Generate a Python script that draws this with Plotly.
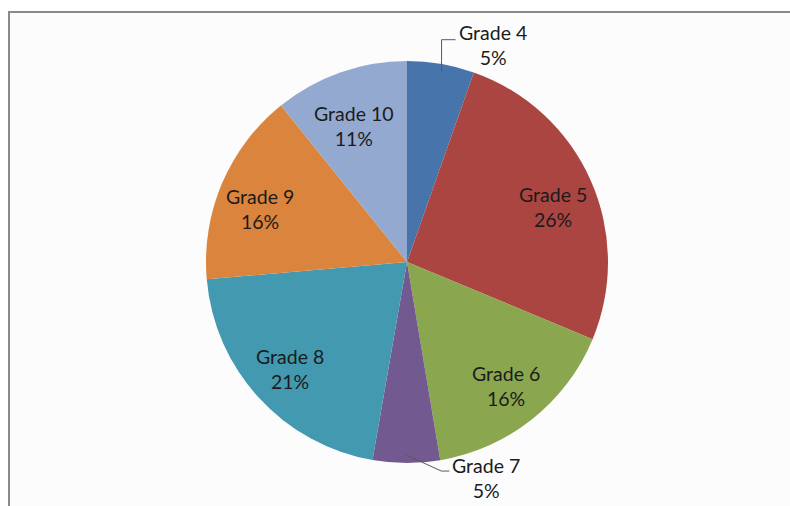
import math
import plotly.graph_objects as go

# ---- data ----
labels = ["Grade 4", "Grade 5", "Grade 6", "Grade 7", "Grade 8", "Grade 9", "Grade 10"]
values = [5.4, 25.9, 16.1, 5.4, 20.9, 15.6, 10.8]
colors = ["#4674AB", "#AB4542", "#8AA64F", "#72598F", "#4299B0", "#DB843D", "#93A9CF"]

# ---- layout geometry (pixels) ----
W, H = 790, 506
CX, CY = 407, 262
RX, RY = 207, 195          # label geometry (reference is slightly stretched)
R = 201                    # drawn pie radius (compromise)
FONT = "Lato, 'Noto Sans', sans-serif"
FSIZE = 19.5
TXT = "#1b1b1b"
INSIDE_DY = 6

dom_x = [(CX - R) / W, (CX + R) / W]
dom_y = [(H - CY - R) / H, (H - CY + R) / H]

def px(x):
    return x / W

def py(y):
    return 1 - y / H

fig = go.Figure(go.Pie(
    labels=labels, values=values, sort=False, direction="clockwise", rotation=0,
    marker=dict(colors=colors, line=dict(width=0)),
    textinfo="none", hoverinfo="label+percent", domain=dict(x=dom_x, y=dom_y),
    showlegend=False,
))

total = sum(values)
outside = {"Grade 4", "Grade 7"}
annotations = []
shapes = [dict(type="rect", xref="paper", yref="paper", x0=px(9), x1=1.05, y0=-0.05, y1=py(12),
               line=dict(color="#8a8a8a", width=2), fillcolor="#fcfcfc", layer="below")]

cum = 0.0
for lab, v in zip(labels, values):
    mid = (cum + v / 2) / total * 2 * math.pi
    cum += v
    pct = round(v / total * 100)
    text = f"{lab}<br>{pct}%"
    sx, sy = math.sin(mid), -math.cos(mid)
    if lab not in outside:
        x, y = CX + 0.77 * RX * sx, CY + 0.77 * RY * sy + INSIDE_DY
        annotations.append(dict(x=px(x), y=py(y), xref="paper", yref="paper", text=text,
                                showarrow=False, xanchor="center", yanchor="middle",
                                font=dict(family=FONT, size=FSIZE, color=TXT), align="center"))
    else:
        p0 = (CX + 0.99 * RX * sx, CY + 0.99 * RY * sy)
        if sy < 0:  # top label: vertical then horizontal
            p1 = (p0[0], CY - 1.14 * RY)
            p2 = (p1[0] + 14, p1[1])
            ty = p1[1] + 5
        else:       # bottom label: diagonal then horizontal
            p1 = (p0[0] + 35, p0[1] + 16)
            p2 = (p1[0] + 8, p1[1])
            ty = p1[1] + 7
        path = f"M {px(p0[0])},{py(p0[1])} L {px(p1[0])},{py(p1[1])} L {px(p2[0])},{py(p2[1])}"
        shapes.append(dict(type="path", xref="paper", yref="paper", path=path,
                           line=dict(color="#595959", width=1)))
        annotations.append(dict(x=px(p2[0] + 1), y=py(ty), xref="paper", yref="paper", text=text,
                                showarrow=False, xanchor="left", yanchor="middle",
                                font=dict(family=FONT, size=FSIZE, color=TXT), align="center"))

fig.update_layout(
    width=W, height=H, margin=dict(l=0, r=0, t=0, b=0),
    paper_bgcolor="white", plot_bgcolor="white",
    annotations=annotations, shapes=shapes,
)
fig.write_html("out.html")
